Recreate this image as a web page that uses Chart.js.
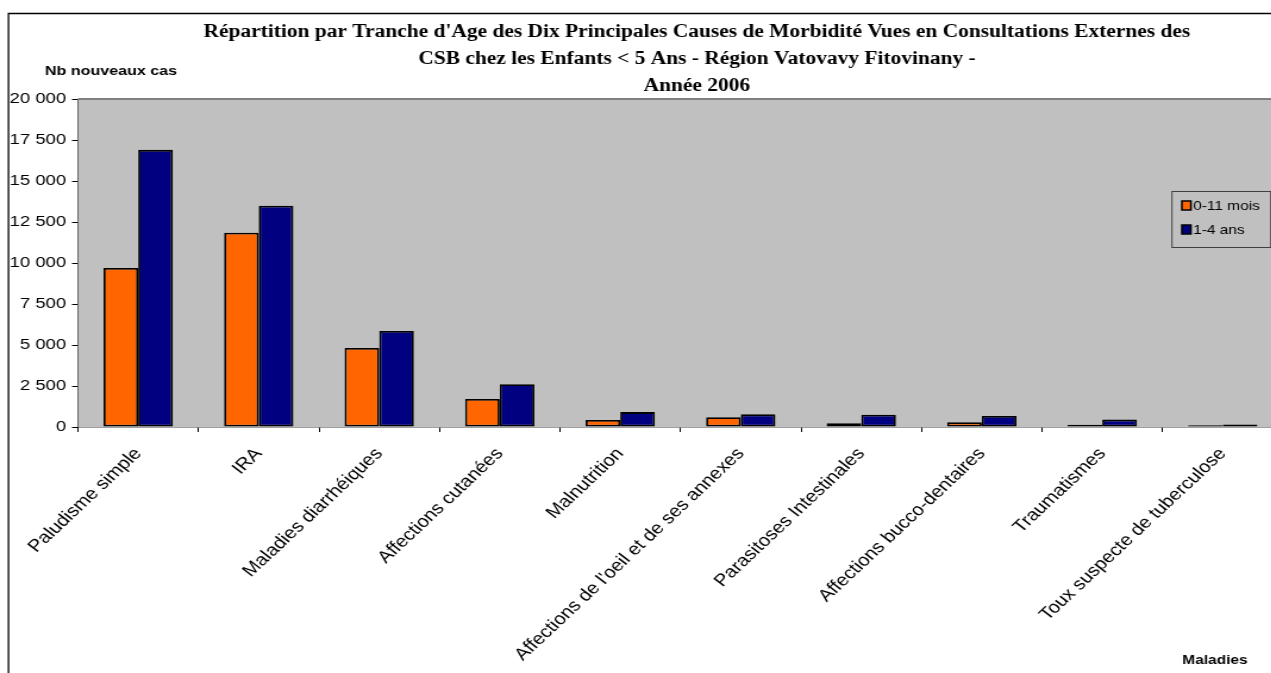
<!DOCTYPE html>
<html>
<head>
<meta charset="utf-8">
<script src="https://cdn.jsdelivr.net/npm/chart.js@4/dist/chart.umd.min.js"></script>
<style>
    html, body { margin: 0; padding: 0; background: #fff; overflow: hidden; }
    .chartBox { width: 1271px; height: 673px; overflow: hidden; position: relative; }
    /* le graphique d'origine est etire horizontalement : on fait pareil */
    .stretch { width: 1078px; height: 673px; transform: scaleX(1.1902); transform-origin: 0 0; }
</style>
</head>
<body>
<div class="chartBox">
    <div class="stretch">
        <canvas id="barChart_morb" width="1078" height="673"></canvas>
    </div>
</div>
<script>
///////////////////////////////// DONNEES

let maladies = ["Paludisme simple", "IRA", "Maladies diarrhéiques", "Affections cutanées", "Malnutrition",
    "Affections de l'oeil et de ses annexes", "Parasitoses Intestinales", "Affections bucco-dentaires",
    "Traumatismes", "Toux suspecte de tuberculose"];
let cas_0_11mois = [9700, 11850, 4820, 1710, 430, 590, 230, 290, 140, 100];
let cas_1_4ans = [16900, 13490, 5850, 2610, 910, 770, 750, 670, 450, 160];
let yTicks = [0, 2500, 5000, 7500, 10000, 12500, 15000, 17500, 20000];

let titre = ["Répartition par Tranche d'Age des Dix Principales Causes de Morbidité Vues en Consultations Externes des",
    "CSB chez les Enfants < 5 Ans - Région Vatovavy Fitovinany -",
    "Année 2006"];

///////////////////////////////// PLUGIN : fond gris, cadre, titres, legende

let decor = {
    id: 'decor',
    beforeDatasetsDraw(chart) {
        let ctx = chart.ctx;
        let a = chart.chartArea;
        ctx.save();
        ctx.fillStyle = '#c0c0c0';
        ctx.fillRect(a.left, a.top, a.right - a.left, a.bottom - a.top);
        ctx.strokeStyle = '#808080';
        ctx.lineWidth = 2;
        ctx.beginPath();
        ctx.moveTo(a.left, a.top);
        ctx.lineTo(a.right, a.top);
        ctx.stroke();
        ctx.restore();
    },
    afterDraw(chart) {
        let ctx = chart.ctx;
        ctx.save();

        //cadre exterieur
        ctx.strokeStyle = '#000';
        ctx.lineWidth = 1.3;
        ctx.beginPath();
        ctx.moveTo(7.1, 700);
        ctx.lineTo(7.1, 13.5);
        ctx.lineTo(1100, 13.5);
        ctx.stroke();

        //titre
        ctx.fillStyle = '#000';
        ctx.textAlign = 'center';
        ctx.textBaseline = 'middle';
        ctx.font = 'bold 18px "Liberation Serif"';
        titre.forEach((t, i) => ctx.fillText(t, 585.6, 32 + i * 27));

        //titres des axes
        ctx.font = 'bold 13.5px "Liberation Sans"';
        ctx.fillText("Nb nouveaux cas", 93.3, 71);
        ctx.font = 'bold 13px "Liberation Sans"';
        ctx.fillText("Maladies", 1020.8, 660);

        //legende
        ctx.fillStyle = '#c0c0c0';
        ctx.fillRect(984.7, 191, 83, 56);
        ctx.strokeStyle = '#404040';
        ctx.lineWidth = 1;
        ctx.strokeRect(984.7, 191.5, 83, 56);
        ctx.textAlign = 'left';
        ctx.font = '13px "Liberation Sans"';
        chart.data.datasets.forEach((ds, i) => {
            let y = 206 + i * 24;
            ctx.fillStyle = ds.backgroundColor;
            ctx.fillRect(993, y - 5, 7.6, 9);
            ctx.strokeStyle = '#000';
            ctx.lineWidth = 1.5;
            ctx.strokeRect(993, y - 5, 7.6, 9);
            ctx.fillStyle = '#000';
            ctx.fillText(ds.label, 1002.4, y);
        });
        ctx.restore();
    }
};

///////////////////////////////// GRAPH PRINCIPAL : BARRES

let chart = document.getElementById("barChart_morb");
let barchart = new Chart(chart, {
    type: 'bar',
    data: {
        labels: maladies,
        datasets: [
            {
                label: "0-11 mois",
                backgroundColor: "#ff6600",
                borderColor: "#000",
                borderWidth: 1.8,
                borderSkipped: false,
                data: cas_0_11mois,
            },
            {
                label: "1-4 ans",
                backgroundColor: "#000080",
                borderColor: "#000",
                borderWidth: 1.8,
                borderSkipped: false,
                data: cas_1_4ans,
            },
        ]
    },
    options: {
        responsive: false,
        animation: false,
        layout: { padding: { top: 99, left: 0, right: 0, bottom: 0 } },
        datasets: { bar: { categoryPercentage: 0.575, barPercentage: 1 } },
        plugins: {
            legend: { display: false },
            tooltip: { enabled: false }
        },
        scales: {
            x: {
                grid: { display: true, drawOnChartArea: false, drawTicks: true, tickLength: 5, color: '#000', offset: true },
                border: { display: true, color: '#404040', width: 1.5 },
                ticks: {
                    autoSkip: false,
                    minRotation: 48,
                    maxRotation: 48,
                    padding: 12,
                    color: '#000',
                    font: { family: '"Liberation Sans"', size: 17 }
                },
                afterFit(scale) { scale.height = 246; }
            },
            y: {
                min: 0,
                max: 20000,
                afterBuildTicks(scale) { scale.ticks = yTicks.map(v => ({ value: v })); },
                grid: { display: true, drawOnChartArea: false, drawTicks: true, tickLength: 5, color: '#000' },
                border: { display: true, color: '#000', width: 1 },
                ticks: {
                    padding: 5,
                    color: '#000',
                    font: { family: '"Liberation Sans"', size: 15.5 },
                    callback: v => String(v).replace(/\B(?=(\d{3})+(?!\d))/g, ' ')
                },
                afterFit(scale) { scale.width = 65.5; }
            }
        }
    },
    plugins: [decor]
});
</script>
</body>
</html>
